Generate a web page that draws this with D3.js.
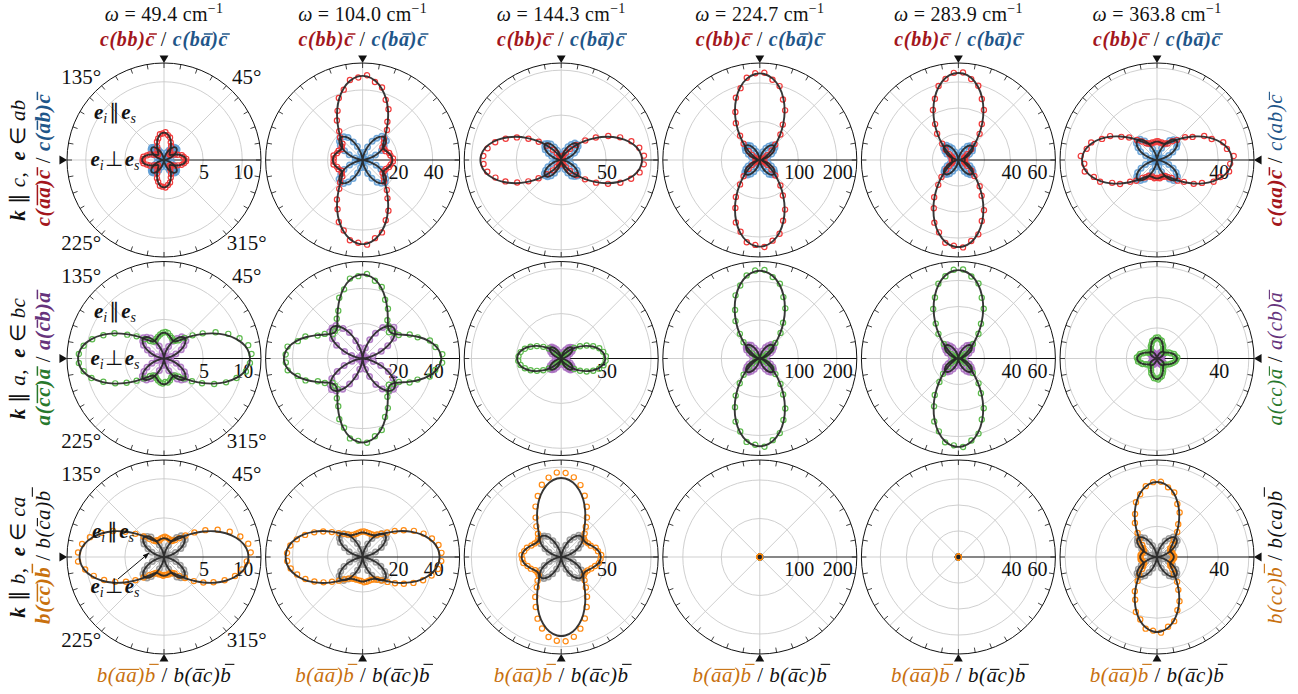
<!DOCTYPE html>
<html><head><meta charset="utf-8">
<script src="https://cdn.jsdelivr.net/npm/d3@7/dist/d3.min.js"></script>
<style>
html,body{margin:0;padding:0;background:#fff;}
svg text{font-family:"Liberation Serif","Times New Roman",serif;white-space:pre;}
</style></head><body>
<svg id="chart" width="1298" height="694"></svg>
<script>
// ---------------- data ----------------
const omegas = ["49.4", "104.0", "144.3", "224.7", "283.9", "363.8"];
const radialMax = [12.4, 55.4, 108, 252, 74.6, 63.4];
const gridRings = [[5, 10], [20, 40], [50, 100], [100, 200], [20, 40, 60], [20, 40, 60]];
const ringLabels = [[5, 10], [20, 40], [50], [100, 200], [40, 60], [40]];
const spokeAngles = [45, 90, 135, 180, 225, 270, 315];
const cornerLabels = [[135, "135°"], [45, "45°"], [225, "225°"], [315, "315°"]];

// polarisation angle of every measured point (degrees)
const angles = [3,9,15,21,27,33,39,45,51,57,63,69,75,81,87,
  93,99,105,111,117,123,129,135,141,147,153,159,165,171,177,
  183,189,195,201,207,213,219,225,231,237,243,249,255,261,267,
  273,279,285,291,297,303,309,315,321,327,333,339,345,351,357];

const zeroSeries = [0,0,0,0,0,0,0,0,0,0,0,0,0,0,0, 0,0,0,0,0,0,0,0,0,0,0,0,0,0,0,
  0,0,0,0,0,0,0,0,0,0,0,0,0,0,0, 0,0,0,0,0,0,0,0,0,0,0,0,0,0,0];

// k || c : parallel c(aa)c / c(bb)c  (red)
const kcParallel = [
 [2.85,2.55,2.36,1.88,1.58,1.17,1.05,0.96,1.20,1.46,2.01,2.40,2.98,3.22,3.55,
  3.40,3.33,2.86,2.51,1.90,1.55,1.12,1.04,0.98,1.25,1.50,1.98,2.26,2.66,2.72,
  2.74,2.66,2.27,1.97,1.50,1.24,0.99,1.03,1.14,1.54,1.91,2.50,2.87,3.34,3.41,
  3.52,3.24,2.97,2.41,1.99,1.47,1.20,0.97,1.05,1.18,1.57,1.90,2.35,2.58,2.81],
 [17.4,16.1,15.7,14.1,13.9,13.5,15.6,17.3,22.1,26.0,32.6,36.8,42.9,45.1,48.5,
  47.2,46.3,41.6,37.9,31.5,26.9,21.2,18.2,14.8,14.2,13.4,14.7,15.1,16.8,16.5,
  16.6,16.8,15.1,14.7,13.4,14.2,14.9,18.1,21.2,26.9,31.5,37.9,41.7,46.4,47.3,
  48.4,45.2,42.8,36.9,32.5,26.1,22.0,17.4,15.5,13.6,13.9,14.2,15.6,16.2,17.3],
 [92.3,88.0,80.9,70.3,58.8,46.0,34.5,23.8,15.7,9.6,5.9,3.9,3.1,2.8,3.2,
  2.9,2.8,3.0,3.7,5.5,9.2,14.7,22.6,32.2,43.5,55.4,66.2,76.1,83.0,86.8,
  86.6,83.3,75.8,66.5,55.0,43.6,32.4,22.4,14.8,9.1,5.6,3.6,2.9,2.8,2.9,
  3.1,2.9,3.1,3.9,5.8,9.7,15.6,24.0,34.2,46.3,58.5,70.6,80.6,88.4,92.1],
 [8.3,7.5,8.4,9.5,15.1,23.1,39.3,57.0,85.1,109.6,144.8,168.2,198.7,211.0,227.1,
  225.6,216.3,193.2,173.5,139.8,114.2,81.4,59.6,37.2,24.5,14.1,10.1,7.7,8.1,7.8,
  7.7,8.1,7.7,10.1,14.2,24.4,37.4,59.5,81.6,114.3,139.7,173.6,193.0,216.5,220.9,
  226.4,212.2,198.3,168.9,144.6,109.9,85.0,57.2,39.0,23.2,15.0,9.6,8.3,7.6,8.2],
 [5.2,4.6,4.9,4.7,6.2,8.1,12.7,17.5,25.9,33.0,43.2,50.3,59.1,63.0,67.4,
  67.1,63.2,59.0,50.4,43.1,32.9,26.0,17.6,12.6,8.2,6.1,4.8,4.8,4.7,5.1,
  4.8,4.9,4.6,5.0,5.8,8.6,12.0,18.4,24.6,34.2,41.7,51.6,57.6,64.5,66.0,
  67.3,63.1,59.2,50.2,43.3,32.8,26.0,17.4,12.8,8.1,6.2,4.7,4.9,4.7,5.2],
 [50.2,46.3,44.8,38.3,34.6,27.7,23.6,18.4,15.8,12.9,12.2,11.2,11.8,11.5,12.3,
  12.2,11.5,11.9,11.3,12.1,13.0,15.6,18.5,23.4,27.8,34.4,38.5,44.5,46.5,49.9,
  47.6,47.8,42.7,39.8,32.9,28.8,22.6,19.2,15.0,13.5,11.6,11.8,11.2,12.1,11.7,
  11.8,12.1,11.3,11.7,11.7,13.4,15.1,19.1,22.7,28.6,33.0,39.6,42.9,47.7,47.9]
];
const kcParallelFit = [
 [2.78,2.61,2.31,1.93,1.54,1.21,1.02,1.00,1.17,1.50,1.95,2.45,2.92,3.28,3.47,
  3.47,3.28,2.92,2.45,1.95,1.50,1.17,1.00,1.02,1.21,1.54,1.93,2.31,2.61,2.78,
  2.78,2.61,2.31,1.93,1.54,1.21,1.02,1.00,1.17,1.50,1.95,2.45,2.92,3.28,3.47,
  3.47,3.28,2.92,2.45,1.95,1.50,1.17,1.00,1.02,1.21,1.54,1.93,2.31,2.61,2.78],
 [16.9,16.4,15.4,14.4,13.7,13.9,15.2,17.8,21.6,26.5,32.0,37.4,42.2,45.8,47.8,
  47.8,45.8,42.2,37.4,32.0,26.5,21.6,17.8,15.2,13.9,13.7,14.4,15.4,16.4,16.9,
  16.9,16.4,15.4,14.4,13.7,13.9,15.2,17.8,21.6,26.5,32.0,37.4,42.2,45.8,47.8,
  47.8,45.8,42.2,37.4,32.0,26.5,21.6,17.8,15.2,13.9,13.7,14.4,15.4,16.4,16.9],
 [89.5,85.7,78.4,68.4,56.9,44.8,33.3,23.3,15.2,9.4,5.7,3.8,3.0,2.9,3.0,
  3.0,2.9,3.0,3.8,5.7,9.4,15.2,23.3,33.3,44.8,56.9,68.4,78.4,85.7,89.5,
  89.5,85.7,78.4,68.4,56.9,44.8,33.3,23.3,15.2,9.4,5.7,3.8,3.0,2.9,3.0,
  3.0,2.9,3.0,3.8,5.7,9.4,15.2,23.3,33.3,44.8,56.9,68.4,78.4,85.7,89.5],
 [8.0,7.8,8.0,9.8,14.6,23.8,38.2,58.3,83.3,112.0,142.2,171.0,195.9,214.1,223.8,
  223.8,214.1,195.9,171.0,142.2,112.0,83.3,58.3,38.2,23.8,14.6,9.8,8.0,7.8,8.0,
  8.0,7.8,8.0,9.8,14.6,23.8,38.2,58.3,83.3,112.0,142.2,171.0,195.9,214.1,223.8,
  223.8,214.1,195.9,171.0,142.2,112.0,83.3,58.3,38.2,23.8,14.6,9.8,8.0,7.8,8.0],
 [5.0,4.8,4.7,4.9,6.0,8.4,12.3,18.0,25.2,33.6,42.4,51.0,58.3,63.8,66.6,
  66.6,63.8,58.3,51.0,42.4,33.6,25.2,18.0,12.3,8.4,6.0,4.9,4.7,4.8,5.0,
  5.0,4.8,4.7,4.9,6.0,8.4,12.3,18.0,25.2,33.6,42.4,51.0,58.3,63.8,66.6,
  66.6,63.8,58.3,51.0,42.4,33.6,25.2,18.0,12.3,8.4,6.0,4.9,4.7,4.8,5.0],
 [48.8,47.0,43.6,39.0,33.7,28.2,23.1,18.8,15.4,13.2,11.9,11.5,11.5,11.8,12.0,
  12.0,11.8,11.5,11.5,11.9,13.2,15.4,18.8,23.1,28.2,33.7,39.0,43.6,47.0,48.8,
  48.8,47.0,43.6,39.0,33.7,28.2,23.1,18.8,15.4,13.2,11.9,11.5,11.5,11.8,12.0,
  12.0,11.8,11.5,11.5,11.9,13.2,15.4,18.8,23.1,28.2,33.7,39.0,43.6,47.0,48.8]
];
// k || c : crossed c(ab)c  (blue)
const kcCrossed = [
 [0.03,0.19,0.57,0.96,1.48,1.80,2.15,2.17,2.08,1.88,1.41,1.02,0.53,0.23,0.04,
  0.02,0.22,0.53,1.02,1.40,1.87,2.08,2.24,2.13,1.81,1.47,0.95,0.57,0.20,0.03,
  0.04,0.20,0.54,1.00,1.42,1.86,2.09,2.21,2.14,1.80,1.46,0.97,0.56,0.22,0.02,
  0.02,0.23,0.56,0.97,1.46,1.82,2.13,2.18,2.09,1.87,1.42,1.01,0.54,0.19,0.03],
 [0.3,1.6,4.7,7.9,12.1,14.7,17.5,17.7,17.4,14.8,12.0,7.9,4.6,1.8,0.2,
  0.2,1.8,4.4,8.3,11.6,15.3,17.0,18.3,17.0,15.2,11.6,8.2,4.4,1.6,0.3,
  0.2,1.7,4.6,8.0,11.9,14.9,17.3,17.8,17.3,14.9,11.9,8.0,4.6,1.7,0.2,
  0.3,1.8,4.4,8.2,11.7,15.2,17.1,18.2,17.1,15.1,11.7,8.3,4.4,1.7,0.3],
 [0.4,2.3,6.5,10.9,16.8,20.5,24.3,24.6,24.2,20.6,16.7,11.0,6.4,2.5,0.3,
  0.3,2.5,6.1,11.5,16.1,21.3,23.6,25.4,23.6,21.2,16.0,11.4,6.1,2.3,0.4,
  0.3,2.4,6.4,11.1,16.6,20.7,24.1,24.8,24.0,20.8,16.5,11.1,6.4,2.4,0.3,
  0.4,2.5,6.2,11.4,16.2,21.1,23.7,25.3,23.8,21.0,16.2,11.3,6.2,2.5,0.4],
 [0.7,4.8,13.4,22.7,34.8,42.6,50.6,51.3,50.3,42.9,34.5,22.9,13.3,5.2,0.6,
  0.6,5.2,12.6,23.8,33.4,44.1,49.1,52.7,49.2,44.0,33.3,23.7,12.7,4.9,0.7,
  0.6,5.0,13.2,23.1,34.4,43.0,50.2,51.6,50.1,43.1,34.3,23.0,13.2,5.0,0.6,
  0.7,5.1,12.8,23.6,33.6,43.8,49.4,52.5,49.5,43.7,33.7,23.5,12.8,5.1,0.7],
 [0.2,1.5,3.6,6.9,9.6,12.8,14.1,15.3,14.2,12.7,9.6,6.9,3.7,1.5,0.2,
  0.3,1.3,3.9,6.5,10.1,12.2,14.7,14.7,14.6,12.3,10.0,6.5,3.9,1.3,0.2,
  0.2,1.4,3.7,6.8,9.7,12.6,14.3,15.2,14.3,12.6,9.7,6.8,3.7,1.4,0.2,
  0.2,1.4,3.9,6.6,10.0,12.4,14.6,14.8,14.5,12.4,9.9,6.6,3.9,1.4,0.3],
 [0.2,1.8,4.4,8.2,11.6,15.2,17.0,18.2,17.1,15.1,11.7,8.3,4.4,1.7,0.3,
  0.3,1.6,4.6,7.9,12.0,14.8,17.4,17.8,17.3,14.8,12.0,7.9,4.6,1.8,0.2,
  0.2,1.7,4.5,8.1,11.7,15.1,17.1,18.1,17.2,15.0,11.8,8.1,4.5,1.6,0.2,
  0.3,1.7,4.4,8.2,11.9,14.9,17.3,17.9,17.2,14.9,11.9,8.2,4.4,1.8,0.3]
];
const kcCrossedFit = [
 [0.02,0.21,0.55,0.99,1.44,1.84,2.11,2.20,2.11,1.84,1.44,0.99,0.55,0.21,0.02,
  0.02,0.21,0.55,0.99,1.44,1.84,2.11,2.20,2.11,1.84,1.44,0.99,0.55,0.21,0.02,
  0.02,0.21,0.55,0.99,1.44,1.84,2.11,2.20,2.11,1.84,1.44,0.99,0.55,0.21,0.02,
  0.02,0.21,0.55,0.99,1.44,1.84,2.11,2.20,2.11,1.84,1.44,0.99,0.55,0.21,0.02],
 [0.2,1.7,4.5,8.1,11.8,15.0,17.2,18.0,17.2,15.0,11.8,8.1,4.5,1.7,0.2,
  0.2,1.7,4.5,8.1,11.8,15.0,17.2,18.0,17.2,15.0,11.8,8.1,4.5,1.7,0.2,
  0.2,1.7,4.5,8.1,11.8,15.0,17.2,18.0,17.2,15.0,11.8,8.1,4.5,1.7,0.2,
  0.2,1.7,4.5,8.1,11.8,15.0,17.2,18.0,17.2,15.0,11.8,8.1,4.5,1.7,0.2],
 [0.3,2.4,6.3,11.2,16.4,20.9,23.9,25.0,23.9,20.9,16.4,11.2,6.3,2.4,0.3,
  0.3,2.4,6.3,11.2,16.4,20.9,23.9,25.0,23.9,20.9,16.4,11.2,6.3,2.4,0.3,
  0.3,2.4,6.3,11.2,16.4,20.9,23.9,25.0,23.9,20.9,16.4,11.2,6.3,2.4,0.3,
  0.3,2.4,6.3,11.2,16.4,20.9,23.9,25.0,23.9,20.9,16.4,11.2,6.3,2.4,0.3],
 [0.6,5.0,13.0,23.3,34.0,43.4,49.8,52.0,49.8,43.4,34.0,23.3,13.0,5.0,0.6,
  0.6,5.0,13.0,23.3,34.0,43.4,49.8,52.0,49.8,43.4,34.0,23.3,13.0,5.0,0.6,
  0.6,5.0,13.0,23.3,34.0,43.4,49.8,52.0,49.8,43.4,34.0,23.3,13.0,5.0,0.6,
  0.6,5.0,13.0,23.3,34.0,43.4,49.8,52.0,49.8,43.4,34.0,23.3,13.0,5.0,0.6],
 [0.2,1.4,3.8,6.7,9.8,12.5,14.4,15.0,14.4,12.5,9.8,6.7,3.8,1.4,0.2,
  0.2,1.4,3.8,6.7,9.8,12.5,14.4,15.0,14.4,12.5,9.8,6.7,3.8,1.4,0.2,
  0.2,1.4,3.8,6.7,9.8,12.5,14.4,15.0,14.4,12.5,9.8,6.7,3.8,1.4,0.2,
  0.2,1.4,3.8,6.7,9.8,12.5,14.4,15.0,14.4,12.5,9.8,6.7,3.8,1.4,0.2],
 [0.2,1.7,4.5,8.1,11.8,15.0,17.2,18.0,17.2,15.0,11.8,8.1,4.5,1.7,0.2,
  0.2,1.7,4.5,8.1,11.8,15.0,17.2,18.0,17.2,15.0,11.8,8.1,4.5,1.7,0.2,
  0.2,1.7,4.5,8.1,11.8,15.0,17.2,18.0,17.2,15.0,11.8,8.1,4.5,1.7,0.2,
  0.2,1.7,4.5,8.1,11.8,15.0,17.2,18.0,17.2,15.0,11.8,8.1,4.5,1.7,0.2]
];

// k || a : parallel a(cc)a / a(bb)a  (green)
const kaParallel = [
 [11.2,10.9,10.0,8.8,7.4,5.9,4.7,3.7,3.0,2.7,2.6,2.8,3.0,3.3,3.4,
  3.3,3.1,2.9,2.7,2.5,2.6,2.9,3.5,4.5,5.6,7.1,8.3,9.5,10.4,10.9,
  10.9,10.4,9.6,8.3,7.0,5.7,4.5,3.6,2.9,2.6,2.5,2.7,2.9,3.1,3.2,
  3.0,3.1,2.9,2.6,2.6,2.6,3.0,3.6,4.6,5.8,7.2,8.5,9.6,10.6,11.0],
 [45.6,42.1,39.8,33.7,30.2,24.6,23.1,21.3,23.6,26.0,31.9,35.9,42.3,45.0,48.3,
  47.1,46.2,40.9,37.2,30.6,27.1,22.6,22.3,21.9,25.8,28.8,35.0,38.3,43.4,44.0,
  43.9,43.3,38.4,34.9,28.7,25.7,22.0,22.2,22.6,27.0,30.6,37.1,40.9,46.2,47.1,
  48.2,45.0,42.3,35.8,31.8,26.0,23.7,21.2,23.1,24.7,30.1,33.6,39.7,42.0,45.5],
 [49.8,47.4,43.9,38.1,31.8,25.0,18.6,13.1,8.6,5.5,3.4,2.4,2.1,2.0,2.1,
  2.0,1.8,2.1,2.2,3.2,5.1,8.2,12.5,17.8,23.8,30.4,36.6,41.8,45.7,47.6,
  47.9,45.8,41.9,36.5,30.3,23.9,17.8,12.6,8.2,5.2,3.2,2.2,1.9,1.9,1.9,
  2.1,2.0,2.1,2.4,3.4,5.4,8.6,13.1,18.7,25.0,31.8,38.2,43.7,47.7,49.5],
 [5.3,4.6,5.7,7.3,13.3,21.8,38.7,57.1,85.6,111.0,146.2,170.8,201.3,214.1,230.2,
  228.9,218.6,196.4,175.8,141.5,115.9,82.4,59.8,36.5,23.3,12.4,7.9,5.2,5.1,4.8,
  4.8,5.1,5.2,7.9,12.4,23.1,36.8,59.5,82.9,115.0,141.9,175.6,196.2,219.4,224.3,
  229.5,214.8,200.6,171.2,146.0,111.4,85.3,57.4,38.5,22.0,13.1,7.4,5.5,4.7,5.2],
 [3.2,2.6,2.7,2.5,4.0,5.9,10.8,15.8,24.5,31.9,42.9,50.1,59.7,63.8,68.5,
  68.3,64.0,59.5,50.3,42.7,32.0,24.4,15.9,10.7,6.0,3.9,2.6,2.6,2.7,3.1,
  2.9,2.9,2.4,2.8,3.7,6.4,10.0,16.7,23.2,33.4,41.3,51.8,58.0,65.3,66.9,
  68.1,63.9,59.8,50.2,42.9,31.8,24.6,15.7,10.9,5.9,4.0,2.5,2.7,2.7,3.2],
 [13.3,12.0,11.5,9.6,8.7,6.9,6.5,5.8,6.6,7.1,9.0,10.0,12.0,12.6,13.8,
  13.6,12.5,11.9,10.0,8.9,7.1,6.6,5.8,6.4,6.9,8.6,9.6,11.4,12.0,13.2,
  12.6,12.5,10.9,10.1,8.2,7.3,6.1,6.2,6.2,7.5,8.5,10.4,11.4,13.0,13.1,
  13.7,12.6,12.0,10.4,8.9,7.5,6.5,6.1,6.4,7.3,8.5,9.6,11.0,12.1,12.7]
];
const kaParallelFit = [
 [10.94,10.47,9.59,8.41,7.07,5.73,4.53,3.58,2.93,2.60,2.55,2.69,2.92,3.15,3.28,
  3.28,3.15,2.92,2.69,2.55,2.60,2.93,3.58,4.53,5.73,7.07,8.41,9.59,10.47,10.94,
  10.94,10.47,9.59,8.41,7.07,5.73,4.53,3.58,2.93,2.60,2.55,2.69,2.92,3.15,3.28,
  3.28,3.15,2.92,2.69,2.55,2.60,2.93,3.58,4.53,5.73,7.07,8.41,9.59,10.47,10.94],
 [44.7,42.7,39.0,34.3,29.4,25.2,22.5,21.8,23.1,26.5,31.2,36.5,41.6,45.6,47.7,
  47.7,45.6,41.6,36.5,31.2,26.5,23.1,21.8,22.5,25.2,29.4,34.3,39.0,42.7,44.7,
  44.7,42.7,39.0,34.3,29.4,25.2,22.5,21.8,23.1,26.5,31.2,36.5,41.6,45.6,47.7,
  47.7,45.6,41.6,36.5,31.2,26.5,23.1,21.8,22.5,25.2,29.4,34.3,39.0,42.7,44.7],
 [48.7,46.6,42.7,37.3,31.0,24.4,18.2,12.8,8.4,5.3,3.3,2.3,2.0,1.9,2.0,
  2.0,1.9,2.0,2.3,3.3,5.3,8.4,12.8,18.2,24.4,31.0,37.3,42.7,46.6,48.7,
  48.7,46.6,42.7,37.3,31.0,24.4,18.2,12.8,8.4,5.3,3.3,2.3,2.0,1.9,2.0,
  2.0,1.9,2.0,2.3,3.3,5.3,8.4,12.8,18.2,24.4,31.0,37.3,42.7,46.6,48.7],
 [5.0,4.9,5.4,7.6,12.8,22.5,37.6,58.3,84.0,113.2,143.9,173.3,198.5,217.0,226.7,
  226.7,217.0,198.5,173.3,143.9,113.2,84.0,58.3,37.6,22.5,12.8,7.6,5.4,4.9,5.0,
  5.0,4.9,5.4,7.6,12.8,22.5,37.6,58.3,84.0,113.2,143.9,173.3,198.5,217.0,226.7,
  226.7,217.0,198.5,173.3,143.9,113.2,84.0,58.3,37.6,22.5,12.8,7.6,5.4,4.9,5.0],
 [3.0,2.8,2.5,2.7,3.8,6.2,10.3,16.3,23.8,32.7,42.0,51.0,58.8,64.6,67.6,
  67.6,64.6,58.8,51.0,42.0,32.7,23.8,16.3,10.3,6.2,3.8,2.7,2.5,2.8,3.0,
  3.0,2.8,2.5,2.7,3.8,6.2,10.3,16.3,23.8,32.7,42.0,51.0,58.8,64.6,67.6,
  67.6,64.6,58.8,51.0,42.0,32.7,23.8,16.3,10.3,6.2,3.8,2.7,2.5,2.8,3.0],
 [12.9,12.3,11.2,9.8,8.4,7.1,6.3,6.0,6.4,7.3,8.7,10.2,11.7,12.8,13.4,
  13.4,12.8,11.7,10.2,8.7,7.3,6.4,6.0,6.3,7.1,8.4,9.8,11.2,12.3,12.9,
  12.9,12.3,11.2,9.8,8.4,7.1,6.3,6.0,6.4,7.3,8.7,10.2,11.7,12.8,13.4,
  13.4,12.8,11.7,10.2,8.7,7.3,6.4,6.0,6.3,7.1,8.4,9.8,11.2,12.3,12.9]
];
// k || a : crossed a(cb)a  (purple)
const kaCrossed = [
 [0.05,0.33,0.96,1.62,2.47,3.04,3.60,3.66,3.58,3.05,2.46,1.63,0.95,0.36,0.04,
  0.04,0.37,0.90,1.70,2.37,3.14,3.49,3.75,3.50,3.13,2.38,1.70,0.91,0.34,0.05,
  0.04,0.35,0.94,1.65,2.44,3.07,3.56,3.68,3.55,3.08,2.43,1.66,0.94,0.35,0.04,
  0.05,0.36,0.91,1.68,2.40,3.11,3.52,3.73,3.53,3.11,2.40,1.68,0.92,0.36,0.05],
 [0.3,2.5,6.2,11.4,16.1,21.2,23.7,25.3,23.7,21.1,16.2,11.4,6.2,2.5,0.3,
  0.4,2.3,6.5,10.9,16.7,20.5,24.2,24.7,24.2,20.6,16.7,11.0,6.5,2.3,0.4,
  0.3,2.4,6.3,11.3,16.3,21.0,23.8,25.1,23.9,20.9,16.4,11.2,6.3,2.4,0.3,
  0.4,2.4,6.4,11.0,16.6,20.7,24.0,24.9,24.1,20.7,16.5,11.1,6.4,2.4,0.4],
 [0.2,1.7,4.1,7.8,10.9,14.5,16.0,17.3,16.1,14.4,10.9,7.8,4.2,1.7,0.2,
  0.3,1.5,4.4,7.4,11.3,13.9,16.5,16.8,16.5,14.0,11.3,7.4,4.4,1.5,0.2,
  0.2,1.6,4.3,7.7,11.0,14.3,16.2,17.1,16.2,14.3,11.0,7.7,4.3,1.6,0.2,
  0.2,1.6,4.2,7.5,11.2,14.1,16.4,16.9,16.4,14.1,11.2,7.5,4.2,1.6,0.3],
 [0.6,4.4,12.4,21.0,32.1,39.4,46.6,47.4,46.4,39.6,31.9,21.1,12.3,4.8,0.5,
  0.5,4.8,11.6,22.0,30.8,40.8,45.3,48.7,45.4,40.7,30.7,21.9,11.7,4.5,0.6,
  0.5,4.6,12.2,21.3,31.7,39.7,46.3,47.7,46.2,39.8,31.6,21.3,12.1,4.6,0.5,
  0.6,4.7,11.8,21.8,31.1,40.5,45.6,48.4,45.7,40.4,31.1,21.7,11.8,4.7,0.6],
 [0.2,1.4,3.4,6.5,9.0,12.0,13.2,14.3,13.2,11.9,9.0,6.5,3.4,1.4,0.2,
  0.2,1.2,3.6,6.1,9.4,11.4,13.7,13.7,13.6,11.5,9.4,6.1,3.6,1.2,0.3,
  0.2,1.3,3.5,6.4,9.1,11.8,13.3,14.1,13.3,11.8,9.1,6.4,3.5,1.3,0.2,
  0.3,1.3,3.6,6.2,9.3,11.6,13.5,13.9,13.5,11.6,9.3,6.2,3.6,1.3,0.2],
 [0.08,0.55,1.55,2.62,4.01,4.93,5.82,5.90,5.80,4.95,4.00,2.63,1.54,0.59,0.07,
  0.07,0.60,1.45,2.76,3.85,5.10,5.66,6.10,5.68,5.09,3.86,2.75,1.46,0.56,0.08,
  0.07,0.57,1.52,2.67,3.96,4.98,5.78,5.95,5.76,4.99,3.95,2.68,1.52,0.58,0.07,
  0.08,0.58,1.48,2.72,3.90,5.05,5.70,6.05,5.71,5.04,3.91,2.71,1.48,0.57,0.08]
];
const kaCrossedFit = [
 [0.04,0.35,0.93,1.66,2.42,3.09,3.54,3.70,3.54,3.09,2.42,1.66,0.93,0.35,0.04,
  0.04,0.35,0.93,1.66,2.42,3.09,3.54,3.70,3.54,3.09,2.42,1.66,0.93,0.35,0.04,
  0.04,0.35,0.93,1.66,2.42,3.09,3.54,3.70,3.54,3.09,2.42,1.66,0.93,0.35,0.04,
  0.04,0.35,0.93,1.66,2.42,3.09,3.54,3.70,3.54,3.09,2.42,1.66,0.93,0.35,0.04],
 [0.3,2.4,6.3,11.2,16.4,20.9,23.9,25.0,23.9,20.9,16.4,11.2,6.3,2.4,0.3,
  0.3,2.4,6.3,11.2,16.4,20.9,23.9,25.0,23.9,20.9,16.4,11.2,6.3,2.4,0.3,
  0.3,2.4,6.3,11.2,16.4,20.9,23.9,25.0,23.9,20.9,16.4,11.2,6.3,2.4,0.3,
  0.3,2.4,6.3,11.2,16.4,20.9,23.9,25.0,23.9,20.9,16.4,11.2,6.3,2.4,0.3],
 [0.2,1.6,4.3,7.6,11.1,14.2,16.3,17.0,16.3,14.2,11.1,7.6,4.3,1.6,0.2,
  0.2,1.6,4.3,7.6,11.1,14.2,16.3,17.0,16.3,14.2,11.1,7.6,4.3,1.6,0.2,
  0.2,1.6,4.3,7.6,11.1,14.2,16.3,17.0,16.3,14.2,11.1,7.6,4.3,1.6,0.2,
  0.2,1.6,4.3,7.6,11.1,14.2,16.3,17.0,16.3,14.2,11.1,7.6,4.3,1.6,0.2],
 [0.5,4.6,12.0,21.5,31.4,40.1,45.9,48.0,45.9,40.1,31.4,21.5,12.0,4.6,0.5,
  0.5,4.6,12.0,21.5,31.4,40.1,45.9,48.0,45.9,40.1,31.4,21.5,12.0,4.6,0.5,
  0.5,4.6,12.0,21.5,31.4,40.1,45.9,48.0,45.9,40.1,31.4,21.5,12.0,4.6,0.5,
  0.5,4.6,12.0,21.5,31.4,40.1,45.9,48.0,45.9,40.1,31.4,21.5,12.0,4.6,0.5],
 [0.2,1.3,3.5,6.3,9.2,11.7,13.4,14.0,13.4,11.7,9.2,6.3,3.5,1.3,0.2,
  0.2,1.3,3.5,6.3,9.2,11.7,13.4,14.0,13.4,11.7,9.2,6.3,3.5,1.3,0.2,
  0.2,1.3,3.5,6.3,9.2,11.7,13.4,14.0,13.4,11.7,9.2,6.3,3.5,1.3,0.2,
  0.2,1.3,3.5,6.3,9.2,11.7,13.4,14.0,13.4,11.7,9.2,6.3,3.5,1.3,0.2],
 [0.07,0.57,1.50,2.69,3.93,5.01,5.74,6.00,5.74,5.01,3.93,2.69,1.50,0.57,0.07,
  0.07,0.57,1.50,2.69,3.93,5.01,5.74,6.00,5.74,5.01,3.93,2.69,1.50,0.57,0.07,
  0.07,0.57,1.50,2.69,3.93,5.01,5.74,6.00,5.74,5.01,3.93,2.69,1.50,0.57,0.07,
  0.07,0.57,1.50,2.69,3.93,5.01,5.74,6.00,5.74,5.01,3.93,2.69,1.50,0.57,0.07]
];

// k || b : parallel b(aa)b / b(cc)b  (orange)
const kbParallel = [
 [11.1,10.9,10.1,9.0,7.7,6.3,5.0,3.9,3.1,2.6,2.3,2.3,2.4,2.5,2.6,
  2.5,2.4,2.2,2.3,2.3,2.5,3.0,3.7,4.7,5.9,7.3,8.6,9.8,10.6,11.0,
  11.0,10.2,9.3,8.2,7.0,5.8,4.7,3.7,3.0,2.6,2.3,2.2,2.3,2.3,2.4,
  2.3,2.3,2.3,2.2,2.3,2.5,3.1,3.8,4.9,6.0,7.1,8.3,9.4,10.1,10.6],
 [45.1,43.9,41.0,37.3,32.9,28.0,23.6,19.8,17.1,15.3,14.2,13.9,14.0,14.3,14.6,
  14.4,14.1,13.8,13.7,14.2,15.4,17.0,19.3,22.6,26.8,31.0,35.2,38.9,41.8,43.2,
  43.1,41.6,38.7,35.0,30.9,26.6,22.5,19.1,16.4,14.7,13.8,13.4,13.4,13.5,13.7,
  14.5,14.3,14.0,13.9,14.4,15.5,17.3,20.1,23.8,28.1,32.6,37.0,40.8,43.6,45.0],
 [44.6,41.5,39.8,35.2,33.5,31.9,32.6,36.9,43.5,52.6,62.8,73.1,82.9,89.8,93.6,
  94.1,89.5,83.2,72.8,63.0,52.3,43.9,36.6,32.9,31.6,33.2,35.5,39.5,41.7,44.2,
  43.3,42.6,38.8,36.2,32.4,31.5,32.3,37.2,43.2,53.0,62.4,73.5,82.5,90.1,93.3,
  93.9,90.0,82.6,73.4,62.5,52.8,43.6,36.8,32.5,31.8,33.0,35.9,39.0,42.4,43.9],
 zeroSeries,
 zeroSeries,
 [11.3,10.4,10.4,9.4,9.9,10.3,13.0,15.6,21.0,25.5,32.6,37.1,43.6,46.1,49.3,
  49.0,46.9,42.5,38.3,31.6,26.5,20.2,16.3,12.4,10.8,9.4,9.8,9.8,10.8,10.7,
  10.7,10.8,9.8,9.8,9.4,10.8,12.4,16.4,20.1,26.6,31.4,38.5,42.3,47.4,48.2,
  49.5,46.2,43.4,37.2,32.4,25.6,20.9,15.7,12.9,10.4,9.9,9.5,10.3,10.4,11.2]
];
const kbParallelFit = [
 [10.75,10.33,9.54,8.46,7.24,5.97,4.80,3.80,3.05,2.56,2.30,2.22,2.27,2.34,2.39,
  2.39,2.34,2.27,2.22,2.30,2.56,3.05,3.80,4.80,5.97,7.24,8.46,9.54,10.33,10.75,
  10.75,10.33,9.54,8.46,7.24,5.97,4.80,3.80,3.05,2.56,2.30,2.22,2.27,2.34,2.39,
  2.39,2.34,2.27,2.22,2.30,2.56,3.05,3.80,4.80,5.97,7.24,8.46,9.54,10.33,10.75],
 [43.8,42.4,39.6,35.9,31.6,27.2,23.0,19.5,16.8,15.0,14.0,13.6,13.6,13.8,14.0,
  14.0,13.8,13.6,13.6,14.0,15.0,16.8,19.5,23.0,27.2,31.6,35.9,39.6,42.4,43.8,
  43.8,42.4,39.6,35.9,31.6,27.2,23.0,19.5,16.8,15.0,14.0,13.6,13.6,13.8,14.0,
  14.0,13.8,13.6,13.6,14.0,15.0,16.8,19.5,23.0,27.2,31.6,35.9,39.6,42.4,43.8],
 [43.8,42.1,39.2,35.8,32.8,31.2,31.8,35.0,40.9,49.1,58.6,68.5,77.3,84.0,87.5,
  87.5,84.0,77.3,68.5,58.6,49.1,40.9,35.0,31.8,31.2,32.8,35.8,39.2,42.1,43.8,
  43.8,42.1,39.2,35.8,32.8,31.2,31.8,35.0,40.9,49.1,58.6,68.5,77.3,84.0,87.5,
  87.5,84.0,77.3,68.5,58.6,49.1,40.9,35.0,31.8,31.2,32.8,35.8,39.2,42.1,43.8],
 zeroSeries,
 zeroSeries,
 [10.95,10.6,10.05,9.62,9.66,10.58,12.66,16.0,20.56,26.04,32.0,37.85,42.95,46.74,48.74,
  48.74,46.74,42.95,37.85,32.0,26.04,20.56,16.0,12.66,10.58,9.66,9.62,10.05,10.6,10.95,
  10.95,10.6,10.05,9.62,9.66,10.58,12.66,16.0,20.56,26.04,32.0,37.85,42.95,46.74,48.74,
  48.74,46.74,42.95,37.85,32.0,26.04,20.56,16.0,12.66,10.58,9.66,9.62,10.05,10.6,10.95]
];
// k || b : crossed b(ca)b  (grey)
const kbCrossed = [
 [0.05,0.32,0.93,1.57,2.41,2.95,3.50,3.55,3.48,2.96,2.40,1.58,0.92,0.35,0.04,
  0.04,0.36,0.87,1.66,2.30,3.06,3.38,3.66,3.40,3.05,2.31,1.65,0.88,0.33,0.05,
  0.04,0.34,0.91,1.60,2.38,2.98,3.46,3.58,3.45,2.99,2.37,1.61,0.91,0.34,0.04,
  0.05,0.35,0.89,1.63,2.34,3.03,3.41,3.63,3.42,3.02,2.34,1.63,0.89,0.35,0.05],
 [0.2,1.6,4.6,7.9,12.0,14.8,17.4,17.8,17.3,14.8,11.9,8.0,4.6,1.7,0.3,
  0.3,1.8,4.4,8.3,11.6,15.2,17.0,18.2,17.1,15.2,11.6,8.2,4.4,1.8,0.2,
  0.2,1.7,4.5,8.0,11.9,14.9,17.3,17.9,17.2,15.0,11.8,8.1,4.5,1.7,0.2,
  0.3,1.7,4.5,8.2,11.7,15.1,17.1,18.1,17.1,15.1,11.7,8.2,4.5,1.7,0.3],
 [0.4,3.0,8.3,13.9,21.5,26.1,31.2,31.5,31.0,26.2,21.4,14.0,8.2,3.2,0.4,
  0.3,3.2,7.7,14.7,20.4,27.3,30.1,32.6,30.2,27.2,20.3,14.6,7.8,3.0,0.4,
  0.4,3.1,8.1,14.2,21.1,26.5,30.8,31.8,30.7,26.6,21.0,14.3,8.1,3.1,0.3,
  0.3,3.1,7.9,14.5,20.7,26.9,30.4,32.3,30.5,26.8,20.7,14.4,7.9,3.1,0.4],
 zeroSeries,
 zeroSeries,
 [0.2,1.6,4.5,7.6,11.8,14.3,17.0,17.2,16.9,14.4,11.7,7.7,4.4,1.7,0.2,
  0.2,1.8,4.2,8.0,11.1,14.9,16.4,17.8,16.5,14.8,11.2,8.0,4.3,1.6,0.2,
  0.2,1.7,4.4,7.8,11.5,14.5,16.8,17.4,16.8,14.6,11.4,7.8,4.4,1.7,0.2,
  0.2,1.7,4.3,7.9,11.3,14.7,16.6,17.6,16.7,14.7,11.3,7.9,4.3,1.7,0.2]
];
const kbCrossedFit = [
 [0.04,0.34,0.90,1.61,2.36,3.00,3.44,3.60,3.44,3.00,2.36,1.61,0.90,0.34,0.04,
  0.04,0.34,0.90,1.61,2.36,3.00,3.44,3.60,3.44,3.00,2.36,1.61,0.90,0.34,0.04,
  0.04,0.34,0.90,1.61,2.36,3.00,3.44,3.60,3.44,3.00,2.36,1.61,0.90,0.34,0.04,
  0.04,0.34,0.90,1.61,2.36,3.00,3.44,3.60,3.44,3.00,2.36,1.61,0.90,0.34,0.04],
 [0.2,1.7,4.5,8.1,11.8,15.0,17.2,18.0,17.2,15.0,11.8,8.1,4.5,1.7,0.2,
  0.2,1.7,4.5,8.1,11.8,15.0,17.2,18.0,17.2,15.0,11.8,8.1,4.5,1.7,0.2,
  0.2,1.7,4.5,8.1,11.8,15.0,17.2,18.0,17.2,15.0,11.8,8.1,4.5,1.7,0.2,
  0.2,1.7,4.5,8.1,11.8,15.0,17.2,18.0,17.2,15.0,11.8,8.1,4.5,1.7,0.2],
 [0.35,3.1,8.0,14.3,20.9,26.7,30.6,32.0,30.6,26.7,20.9,14.3,8.0,3.1,0.35,
  0.35,3.1,8.0,14.3,20.9,26.7,30.6,32.0,30.6,26.7,20.9,14.3,8.0,3.1,0.35,
  0.35,3.1,8.0,14.3,20.9,26.7,30.6,32.0,30.6,26.7,20.9,14.3,8.0,3.1,0.35,
  0.35,3.1,8.0,14.3,20.9,26.7,30.6,32.0,30.6,26.7,20.9,14.3,8.0,3.1,0.35],
 zeroSeries,
 zeroSeries,
 [0.19,1.67,4.38,7.83,11.45,14.6,16.74,17.5,16.74,14.6,11.45,7.83,4.38,1.67,0.19,
  0.19,1.67,4.38,7.83,11.45,14.6,16.74,17.5,16.74,14.6,11.45,7.83,4.38,1.67,0.19,
  0.19,1.67,4.38,7.83,11.45,14.6,16.74,17.5,16.74,14.6,11.45,7.83,4.38,1.67,0.19,
  0.19,1.67,4.38,7.83,11.45,14.6,16.74,17.5,16.74,14.6,11.45,7.83,4.38,1.67,0.19]
];

// ---------------- labels ----------------
const TC = {r: "#a3161c", b: "#1f5689", g: "#28782c", p: "#66337c", o: "#c8700e", k: "#111111"};
// segments: [text, colour, flags]   flags: b = bold, i = italic, o = overline
const topSecond = [["c(bb)","r","bi"],["c","r","bio"],[" / ","k",""],["c(b","b","bi"],["a","b","bio"],[")","b","bi"],["c","b","bio"]];
const bottomLine = [["b(","o","i"],["aa","o","io"],[")","o","i"],["b","o","io"],[" / ","k",""],["b(","k","i"],["a","k","io"],["c)","k","i"],["b","k","io"]];
const leftFirst = [
  [["k","k","bi"],[" ∥ ","k",""],["c","k","i"],[",  ","k",""],["e","k","bi"],[" ∈ ","k",""],["ab","k","i"]],
  [["k","k","bi"],[" ∥ ","k",""],["a","k","i"],[",  ","k",""],["e","k","bi"],[" ∈ ","k",""],["bc","k","i"]],
  [["k","k","bi"],[" ∥ ","k",""],["b","k","i"],[",  ","k",""],["e","k","bi"],[" ∈ ","k",""],["ca","k","i"]]
];
const leftSecond = [
  [["c(","r","bi"],["aa","r","bio"],[")","r","bi"],["c","r","bio"],[" / ","k",""],["c(","b","bi"],["a","b","bio"],["b)","b","bi"],["c","b","bio"]],
  [["a(","g","bi"],["cc","g","bio"],[")","g","bi"],["a","g","bio"],[" / ","k",""],["a(","p","bi"],["c","p","bio"],["b)","p","bi"],["a","p","bio"]],
  [["b(","o","bi"],["cc","o","bio"],[")","o","bi"],["b","o","bio"],[" / ","k",""],["b(","k","i"],["c","k","io"],["a)","k","i"],["b","k","io"]]
];
const rightLabels = [
  [["c(aa)","r","bi"],["c","r","bio"],[" / ","k",""],["c(ab)","b","i"],["c","b","io"]],
  [["a(cc)","g","i"],["a","g","io"],[" / ","k",""],["a(cb)","p","i"],["a","p","io"]],
  [["b(cc)","o","i"],["b","o","io"],[" / ","k",""],["b(ca)","k","i"],["b","k","io"]]
];

// ---------------- drawing ----------------
const svg = d3.select("#chart");
const R = 97;
const rad = d => d * Math.PI / 180;
const colX = c => 164 + c * 198.6;
const rowY = r => 160 + r * 198.5;

const rows = [
  {par: kcParallel, parFit: kcParallelFit, cross: kcCrossed, crossFit: kcCrossedFit, parColor: "#f03a3a", crossColor: "#5a9ad3"},
  {par: kaParallel, parFit: kaParallelFit, cross: kaCrossed, crossFit: kaCrossedFit, parColor: "#5cba4c", crossColor: "#a86cc0"},
  {par: kbParallel, parFit: kbParallelFit, cross: kbCrossed, crossFit: kbCrossedFit, parColor: "#ff8a12", crossColor: "#909090"}
];

// mixed-style label with hand-placed bars over the overlined letters
function rich(x, y, rot, segs, size, spacing) {
  const g = svg.append("g").attr("transform", `translate(${x},${y})` + (rot ? ` rotate(${rot})` : ""));
  const t = g.append("text").attr("text-anchor", "middle").attr("font-size", size)
    .attr("letter-spacing", spacing || 0);
  const bars = [];
  segs.forEach(([txt, col, f]) => {
    const ts = t.append("tspan").text(txt).attr("fill", TC[col]);
    if (f.includes("b")) ts.attr("font-weight", "bold");
    if (f.includes("i")) ts.attr("font-style", "italic");
    if (f.includes("o")) bars.push({node: ts.node(), txt, col, bold: f.includes("b"), ital: f.includes("i")});
  });
  bars.forEach(b => {
    const n = b.node.getNumberOfChars();
    const x0 = b.node.getStartPositionOfChar(0).x;
    const x1 = b.node.getEndPositionOfChar(n - 1).x - (spacing || 0);
    const tall = /[bdfhklt]/.test(b.txt);
    const h = (tall ? 0.84 : 0.6) * size;
    const shift = b.ital ? 0.2 * h : 0;
    g.append("line").attr("x1", x0 + shift + 1).attr("x2", x1 + shift)
      .attr("y1", -h).attr("y2", -h)
      .attr("stroke", TC[b.col]).attr("stroke-width", b.bold ? 1.5 : 1.1);
  });
}

function eLabel(g, x, y, sym) {
  const t = g.append("text").attr("x", x).attr("y", y).attr("text-anchor", "middle").attr("font-size", 21).attr("fill", "#111");
  t.append("tspan").text("e").attr("font-weight", "bold").attr("font-style", "italic");
  t.append("tspan").text("i").attr("font-style", "italic").attr("font-size", 14).attr("dy", 4);
  t.append("tspan").text(sym).attr("dy", -4).attr("dx", 1.5);
  t.append("tspan").text("e").attr("font-weight", "bold").attr("font-style", "italic").attr("dx", 1.5);
  t.append("tspan").text("s").attr("font-style", "italic").attr("font-size", 14).attr("dy", 4);
}

svg.append("defs").append("marker").attr("id", "arrowHead").attr("viewBox", "0 0 10 10")
  .attr("refX", 9).attr("refY", 5).attr("markerWidth", 7).attr("markerHeight", 7).attr("orient", "auto")
  .append("path").attr("d", "M0,1.5 L10,5 L0,8.5 Z").attr("fill", "#111");

const radialLine = rs => d3.lineRadial()
  .angle(d => rad(90 - d.a)).radius(d => rs(d.v))
  .curve(d3.curveCatmullRomClosed.alpha(0.5));

rows.forEach((row, r) => {
  for (let c = 0; c < 6; c++) {
    const cx = colX(c), cy = rowY(r);
    const g = svg.append("g").attr("transform", `translate(${cx},${cy})`);
    const rs = d3.scaleLinear().domain([0, radialMax[c]]).range([0, R]);

    // grid
    g.append("g").selectAll("circle").data(gridRings[c]).join("circle")
      .attr("r", d => rs(d)).attr("fill", "none").attr("stroke", "#c9c9c9").attr("stroke-width", 0.9);
    g.append("g").selectAll("line").data(spokeAngles).join("line")
      .attr("x2", d => R * Math.cos(rad(d))).attr("y2", d => -R * Math.sin(rad(d)))
      .attr("stroke", "#c9c9c9").attr("stroke-width", 0.9);
    g.append("g").selectAll("line").data(d3.range(0, 360, 10)).join("line")
      .attr("x1", d => (R - 5) * Math.cos(rad(d))).attr("y1", d => -(R - 5) * Math.sin(rad(d)))
      .attr("x2", d => R * Math.cos(rad(d))).attr("y2", d => -R * Math.sin(rad(d)))
      .attr("stroke", "#111").attr("stroke-width", 0.8);
    g.append("circle").attr("r", R).attr("fill", "none").attr("stroke", "#111").attr("stroke-width", 1);
    g.append("line").attr("x2", R).attr("stroke", "#111").attr("stroke-width", 1.2);

    // radial tick labels
    g.append("g").selectAll("text").data(ringLabels[c]).join("text")
      .attr("x", d => rs(d) + 1).attr("y", 19).attr("text-anchor", "middle")
      .attr("font-size", 20).attr("fill", "#111").text(d => d);

    // measured points: crossed set first, parallel set on top
    const parPts = angles.map((a, i) => ({a, v: row.par[c][i]}));
    const crossPts = angles.map((a, i) => ({a, v: row.cross[c][i]}));
    g.append("g").selectAll("circle").data(crossPts).join("circle")
      .attr("cx", d => rs(d.v) * Math.cos(rad(d.a))).attr("cy", d => -rs(d.v) * Math.sin(rad(d.a)))
      .attr("r", 2.8).attr("fill", row.crossColor).attr("fill-opacity", 0.3)
      .attr("stroke", row.crossColor).attr("stroke-opacity", 0.85).attr("stroke-width", 1.4);
    g.append("g").selectAll("circle").data(parPts).join("circle")
      .attr("cx", d => rs(d.v) * Math.cos(rad(d.a))).attr("cy", d => -rs(d.v) * Math.sin(rad(d.a)))
      .attr("r", 2.6).attr("fill", "none").attr("stroke", row.parColor).attr("stroke-width", 1.2);

    // fitted curves
    const line = radialLine(rs);
    [row.parFit[c], row.crossFit[c]].forEach(fit => {
      const pts = angles.map((a, i) => ({a, v: fit[i]}));
      g.append("path").attr("d", line(pts)).attr("fill", "none")
        .attr("stroke", "#262626").attr("stroke-opacity", 0.92).attr("stroke-width", 1.9)
        .attr("stroke-linejoin", "round").attr("stroke-linecap", "round");
    });
    if (d3.max(row.parFit[c]) === 0) {
      g.append("circle").attr("r", 2.2).attr("fill", "#222");
    }

    // direction markers
    const tri = d3.symbol(d3.symbolTriangle, 34);
    if (r === 0) g.append("path").attr("d", tri()).attr("transform", `translate(0,${-R - 5}) rotate(180)`).attr("fill", "#111");
    if (r === 2) g.append("path").attr("d", tri()).attr("transform", `translate(0,${R + 5})`).attr("fill", "#111");
    if (c === 0) g.append("path").attr("d", tri()).attr("transform", `translate(${-R - 5},0) rotate(90)`).attr("fill", "#111");
    if (c === 5) g.append("path").attr("d", tri()).attr("transform", `translate(${R + 5},0) rotate(-90)`).attr("fill", "#111");

    // angle labels + polarisation notes in the first column
    if (c === 0) {
      cornerLabels.forEach(([deg, txt]) => {
        const dx = Math.cos(rad(deg)) * 117, dy = -Math.sin(rad(deg)) * 117;
        g.append("text").attr("x", dx).attr("y", dy + 7).attr("text-anchor", "middle")
          .attr("font-size", 21).attr("fill", "#111").text(txt);
      });
      if (r < 2) {
        eLabel(g, -49, -41, "∥");
        eLabel(g, -49, 6, "⊥");
      } else {
        eLabel(g, -51, -19, "∥");
        eLabel(g, -49, 36, "⊥");
        g.append("line").attr("x1", -46).attr("y1", 22).attr("x2", -15).attr("y2", -4)
          .attr("stroke", "#111").attr("stroke-width", 1).attr("marker-end", "url(#arrowHead)");
      }
    }
  }
});

// column headers and footers
omegas.forEach((w, c) => {
  const t = svg.append("text").attr("x", colX(c)).attr("y", 21).attr("text-anchor", "middle")
    .attr("font-size", 20).attr("letter-spacing", 0.3).attr("fill", "#111");
  t.append("tspan").text("ω").attr("font-style", "italic");
  t.append("tspan").text(" = " + w + " cm");
  t.append("tspan").text("−1").attr("font-size", 14).attr("dy", -8);
  rich(colX(c), 46, 0, topSecond, 20, 0.7);
  rich(colX(c), 682, 0, bottomLine, 21, 0.5);
});

// row labels
[0, 1, 2].forEach(r => {
  const cy = rowY(r);
  rich(25, cy, -90, leftFirst[r], 21, 0.4);
  rich(50, cy, -90, leftSecond[r], 21, 0.6);
  rich(1282, cy, -90, rightLabels[r], 21, 0.6);
});
</script></body></html>
